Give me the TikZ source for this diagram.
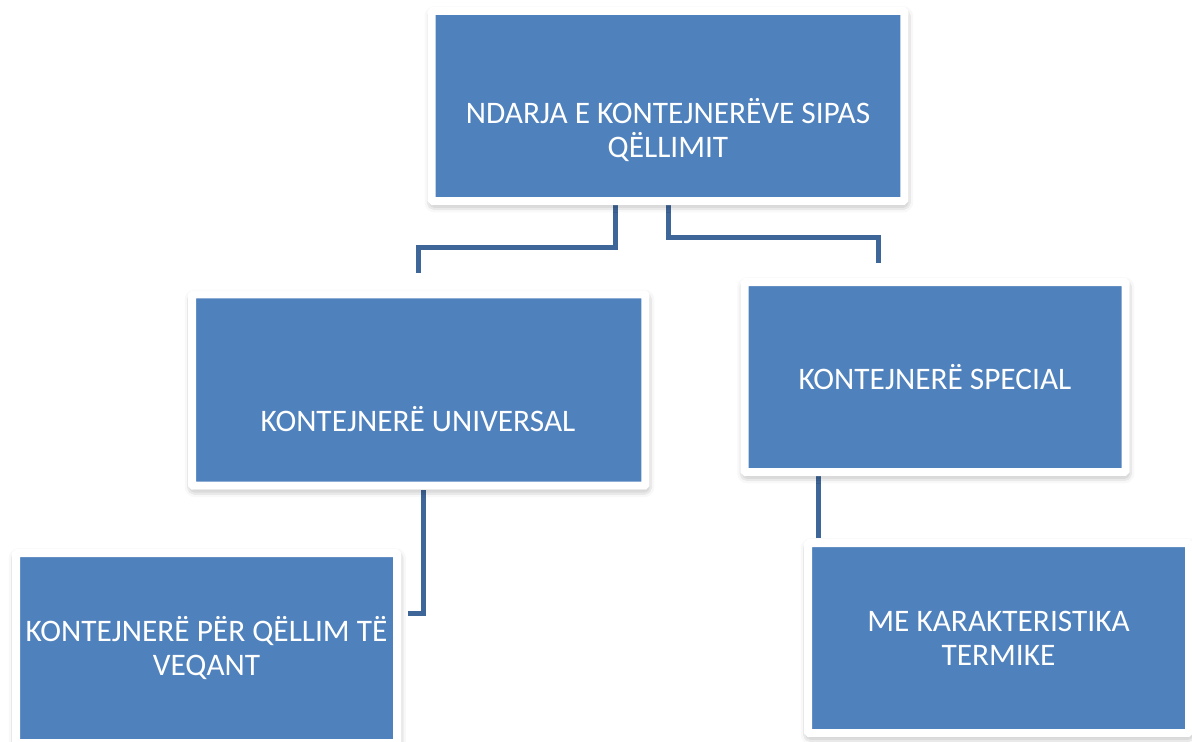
\documentclass[tikz,border=0pt]{standalone}
\usepackage{fontspec}
\setmainfont{Carlito}
\usetikzlibrary{positioning, backgrounds, shadows.blur}
\definecolor{boxblue}{RGB}{79,129,189}
\definecolor{linkblue}{RGB}{62,102,152}

\begin{document}
\begin{tikzpicture}[x=0.75pt, y=-0.75pt,
    box/.style={rectangle, fill=boxblue, draw=white, line width=6pt, rounded corners=1pt,
        inner sep=0pt, minimum width=285.75pt, minimum height=142.5pt,
        blur shadow={shadow xshift=0.6pt, shadow yshift=-2.5pt, shadow blur radius=6pt, shadow opacity=45}},
    lbl/.style={text=white, align=center, font=\fontsize{23.5}{25.5}\selectfont},
    link/.style={draw=linkblue, line width=3.75pt}]
    \useasboundingbox (0,0) rectangle (1192,742);

    % Top box
    \node[box, minimum width=354.4pt] (ndarja) at (668,106) {};
    \node[lbl] (ndarjaTxt) at (668,130) {NDARJA E KONTEJNERËVE SIPAS\\QËLLIMIT};

    % Second row
    \node[box, minimum width=340.1pt, minimum height=143.6pt] (universal) at (418.75,390) {};
    \node[lbl] (universalTxt) at (418,419) {KONTEJNERË UNIVERSAL};

    \node[box] (special) at (935,377) {};
    \node[lbl] (specialTxt) at (special) {KONTEJNERË SPECIAL};

    % Third row
    \node[box] (veqant) at (206.5,648) {};
    \node[lbl] (veqantTxt) at (veqant) {KONTEJNERË PËR QËLLIM TË\\VEQANT};

    \node[box] (termike) at (998.5,638) {};
    \node[lbl] (termikeTxt) at (termike) {ME KARAKTERISTIKA\\TERMIKE};

    % Free ends of the connectors
    \coordinate (uniEnd) at (418,273);
    \coordinate (specEnd) at (878,263);
    \coordinate (veqEnd) at (408,613);
    \coordinate (termEnd) at (818,538);

    \begin{scope}[on background layer]
      \draw[link] ([xshift=-39.75pt]ndarja.south) -- ++(0,42) -| (uniEnd);
      \draw[link] (ndarja.south) -- ++(0,32) -| (specEnd);
      \draw[link] ([xshift=3.2pt]universal.south) |- (veqEnd);
      \draw[link] ([xshift=-87.75pt]special.south) -- (termEnd);
    \end{scope}
\end{tikzpicture}
\end{document}
